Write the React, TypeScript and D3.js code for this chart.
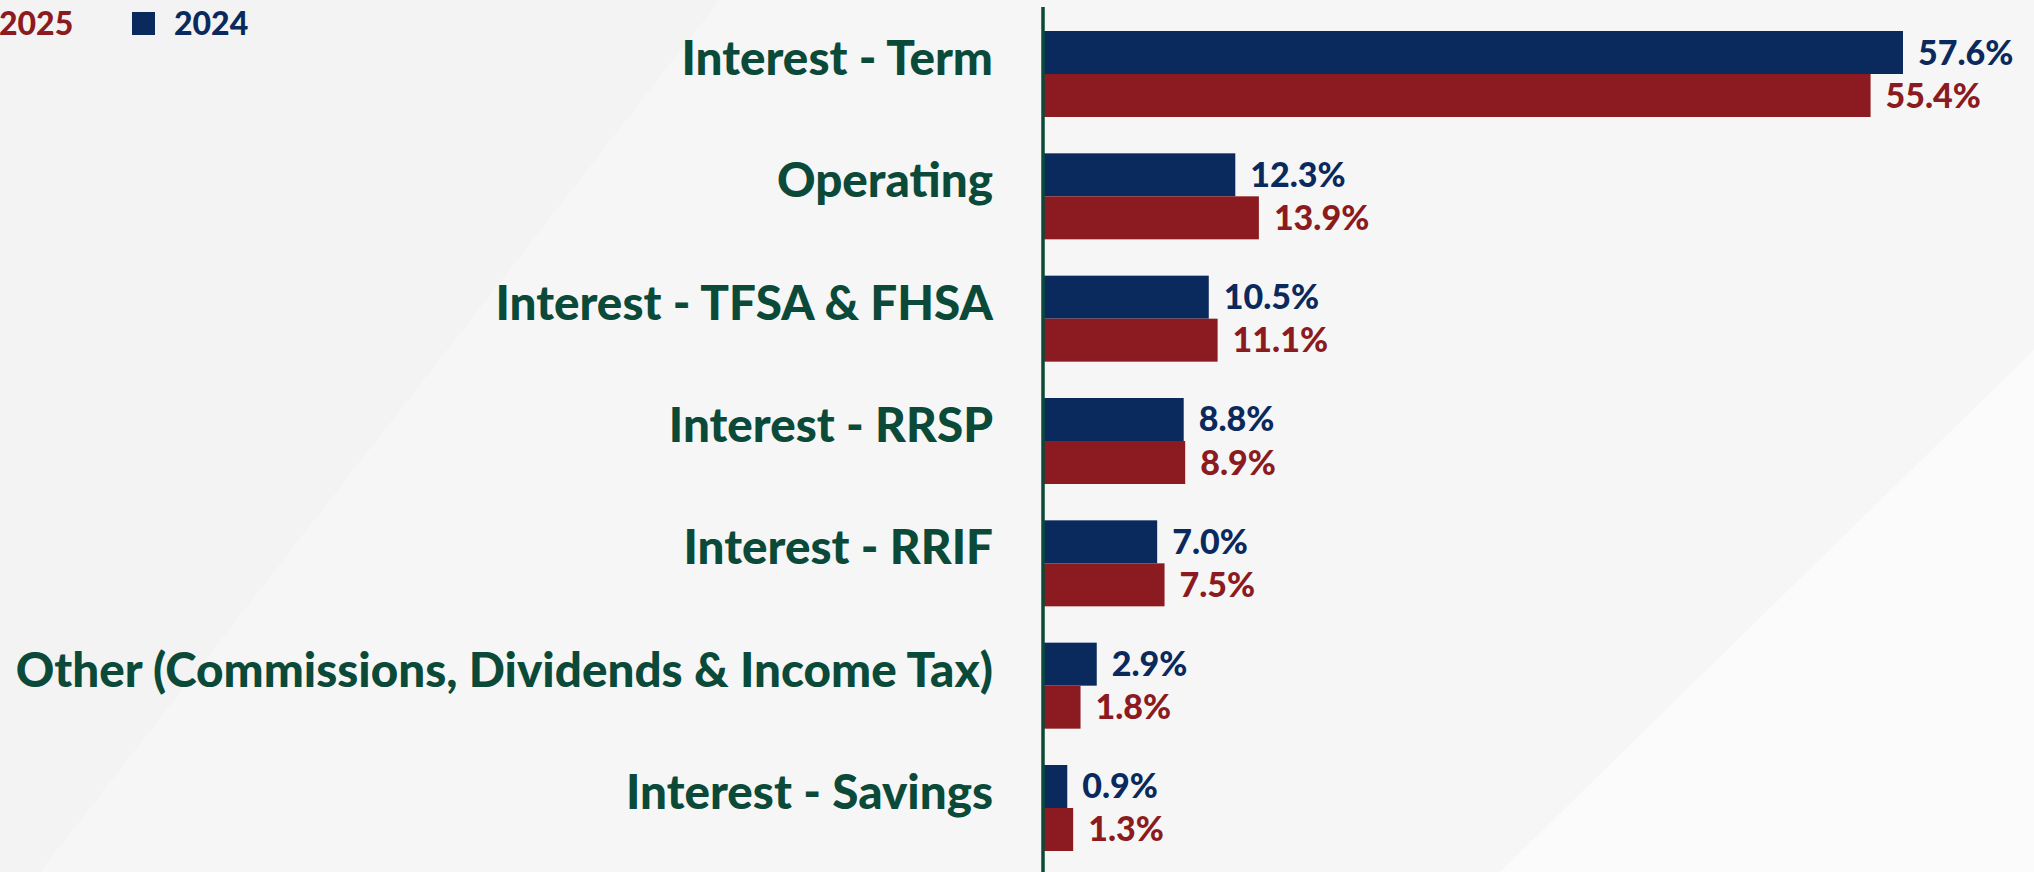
import React from 'react';
import * as d3 from 'd3';

const categories = [
  'Interest - Term',
  'Operating',
  'Interest - TFSA & FHSA',
  'Interest - RRSP',
  'Interest - RRIF',
  'Other (Commissions, Dividends & Income Tax)',
  'Interest - Savings',
];
const series = ['2024', '2025'];
const values2024 = [57.6, 12.3, 10.5, 8.8, 7.0, 2.9, 0.9];
const values2025 = [55.4, 13.9, 11.1, 8.9, 7.5, 1.8, 1.3];

const W = 2034;
const H = 872;
const axisX = 1043;
const navy = '#0a295d';
const red = '#8b1b20';
const green = '#0b4a39';
const font = 'Lato, "Open Sans", sans-serif';

export default function App() {
  const x = d3.scaleLinear().domain([0, 57.6]).range([1054, 1903]);
  const y = d3.scaleBand<string>()
    .domain(categories)
    .range([31, 851])
    .paddingInner(0.297)
    .paddingOuter(0)
    .align(0);
  const sub = d3.scaleBand<string>().domain(series).range([0, y.bandwidth()]);
  const colors: Record<string, string> = { '2024': navy, '2025': red };
  const rows = categories.map((c, i) => ({ c, vals: [values2024[i], values2025[i]] }));

  return (
    <svg width={W} height={H} style={{ position: 'absolute', left: 0, top: 0, display: 'block' }}>
      {/* soft background */}
      <rect width={W} height={H} fill="#f6f6f6" />
      <polygon points="0,0 720,0 40,872 0,872" fill="#f3f3f3" />
      <polygon points="1500,872 2034,350 2034,872" fill="#fbfbfb" />

      {/* legend */}
      <rect x={-44} y={12} width={23} height={23} fill={red} />
      <text x={-1} y={35} fontFamily={font} fontWeight={900} fontSize={32} fill={red}>2025</text>
      <rect x={132} y={12} width={23} height={23} fill={navy} />
      <text x={174} y={35} fontFamily={font} fontWeight={900} fontSize={32} fill={navy}>2024</text>

      {rows.map(r => {
        const y0 = y(r.c)!;
        return (
          <g key={r.c}>
            <text
              x={993}
              y={y0 + y.bandwidth() / 2 + 1}
              textAnchor="end"
              fontFamily={font}
              fontWeight={900}
              fontSize={47.6}
              fill={green}
            >
              {r.c}
            </text>
            {series.map((s, j) => {
              const v = r.vals[j];
              const by = y0 + sub(s)!;
              return (
                <g key={s}>
                  <rect x={axisX} y={by} width={x(v) - axisX} height={sub.bandwidth()} fill={colors[s]} />
                  <text
                    x={x(v) + 15}
                    y={by + sub.bandwidth() / 2 + 12}
                    fontFamily={font}
                    fontWeight={900}
                    fontSize={34}
                    fill={colors[s]}
                  >
                    {v.toFixed(1)}%
                  </text>
                </g>
              );
            })}
          </g>
        );
      })}

      <line x1={axisX} x2={axisX} y1={7} y2={H} stroke={green} strokeWidth={3.5} />
    </svg>
  );
}
